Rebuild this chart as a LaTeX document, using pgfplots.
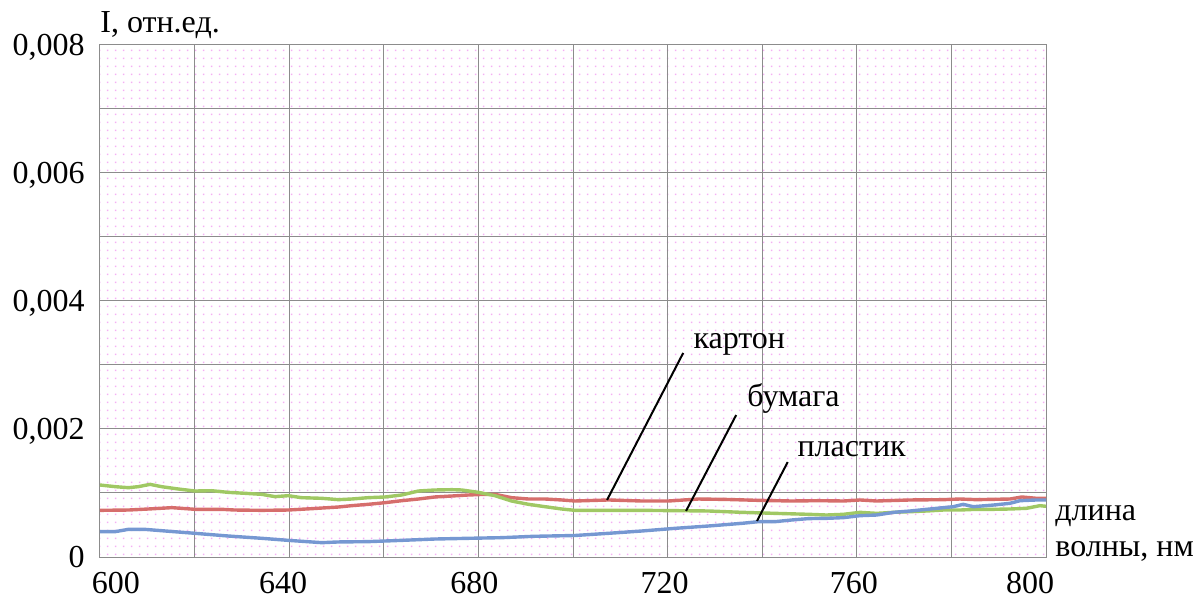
\documentclass[border=0pt]{standalone}
\usepackage{fontspec}
\setmainfont{Liberation Serif}
\usepackage{pgfplots}
\pgfplotsset{compat=1.18}
\usepackage{pgfplotstable}
\usetikzlibrary{patterns}

\definecolor{kartonred}{RGB}{214,110,108}
\definecolor{bumagagreen}{RGB}{160,200,100}
\definecolor{plastblue}{RGB}{118,152,210}
\definecolor{dotpink}{RGB}{244,176,244}
\definecolor{gridgray}{RGB}{140,140,140}

% faint pink dotted paper behind the plot area
\pgfdeclarepatterninherentlycolored{pinkdots}{\pgfpoint{0bp}{0bp}}{\pgfpoint{4bp}{4bp}}{\pgfpoint{4bp}{4bp}}{%
  \pgfsetfillcolor{dotpink}%
  \pgfpathrectangle{\pgfpoint{1.6bp}{1.6bp}}{\pgfpoint{0.8bp}{0.8bp}}\pgfusepath{fill}}

\newcommand{\chartfont}{\fontsize{16bp}{19bp}\selectfont}

% wavelength (nm)  intensity (rel. units)
\pgfplotstableread{
x y
600 0.000729
606.0 0.000734
610.2 0.000750
615.2 0.000771
620.1 0.000745
625.7 0.000745
628.5 0.000734
634.2 0.000729
639.8 0.000734
644.7 0.000755
650.4 0.000781
653.2 0.000802
656.7 0.000823
660.3 0.000849
663.8 0.000880
667.3 0.000906
670.8 0.000938
674.4 0.000953
677.9 0.000969
681.4 0.000979
683.5 0.000979
687.0 0.000927
690.6 0.000906
694.1 0.000906
697.6 0.000891
700.4 0.000875
707.5 0.000891
714.5 0.000875
720.2 0.000875
726.5 0.000906
732.1 0.000900
739.2 0.000885
746.2 0.000875
751.9 0.000880
757.2 0.000875
760.7 0.000891
764.2 0.000875
771.3 0.000891
778.3 0.000896
781.8 0.000906
785.3 0.000896
792.4 0.000906
794.9 0.000938
798.0 0.000917
800 0.000917
}\karton

\pgfplotstableread{
x y
600 0.001125
603.2 0.001099
606.0 0.001083
608.1 0.001099
610.6 0.001135
613.0 0.001099
616.6 0.001062
620.1 0.001031
623.6 0.001036
627.1 0.001010
630.7 0.000995
634.2 0.000979
637.0 0.000943
639.8 0.000958
642.6 0.000927
646.9 0.000917
650.4 0.000896
653.2 0.000906
656.7 0.000927
660.3 0.000938
663.8 0.000969
667.3 0.001031
670.8 0.001047
674.4 0.001052
676.5 0.001047
680.0 0.001010
683.5 0.000958
687.0 0.000875
690.6 0.000823
694.1 0.000786
697.6 0.000750
700.4 0.000729
707.5 0.000729
714.5 0.000729
721.6 0.000724
728.6 0.000719
735.7 0.000698
742.7 0.000682
749.8 0.000667
753.6 0.000656
757.2 0.000667
760.7 0.000698
764.2 0.000682
767.8 0.000698
771.3 0.000708
774.8 0.000719
778.3 0.000734
781.8 0.000734
785.3 0.000745
788.9 0.000745
792.4 0.000750
795.9 0.000761
798.7 0.000802
800 0.000792
}\bumaga

\pgfplotstableread{
x y
600 0.000396
603.2 0.000396
606.0 0.000432
609.5 0.000432
613.0 0.000411
620.1 0.000370
627.1 0.000328
634.2 0.000292
639.8 0.000260
646.9 0.000224
650.4 0.000235
656.7 0.000240
663.8 0.000260
670.8 0.000281
677.9 0.000292
684.9 0.000302
691.6 0.000323
700.4 0.000336
707.5 0.000370
714.5 0.000406
721.6 0.000448
728.6 0.000484
735.7 0.000526
739.2 0.000552
742.7 0.000552
746.2 0.000578
749.8 0.000600
753.6 0.000604
757.2 0.000615
760.7 0.000646
764.2 0.000656
767.8 0.000698
771.3 0.000719
774.8 0.000745
778.3 0.000771
780.4 0.000786
782.5 0.000823
784.6 0.000786
788.9 0.000812
792.4 0.000839
794.5 0.000880
798.0 0.000891
800 0.000891
}\plastik

\begin{document}
\begin{tikzpicture}
\begin{axis}[
  at={(0,0)}, anchor=south west,
  scale only axis, width=473bp, height=256bp,
  xmin=600, xmax=800, ymin=0, ymax=0.008,
  xtick={600,640,680,720,760,800},
  minor xtick={620,660,700,740,780},
  ytick={0,0.002,0.004,0.006,0.008},
  minor ytick={0.001,0.003,0.005,0.007},
  xticklabels={\hspace*{16bp}600,640\hspace*{6bp},680\hspace*{4bp},720\hspace*{3bp},760\hspace*{3bp},800\hspace*{16bp}},
  yticklabels={0,{0,002},{0,004},{0,006},{0,008}},
  scaled y ticks=false,
  major tick length=0pt, minor tick length=0pt,
  grid=both,
  major grid style={gridgray, line width=0.5bp},
  minor grid style={gridgray, line width=0.5bp},
  axis line style={gridgray, line width=0.5bp},
  axis background/.style={pattern=pinkdots},
  tick label style={font=\chartfont},
  xticklabel style={anchor=north, inner sep=0pt, yshift=-7.5bp},
  yticklabel style={anchor=base east, inner sep=0pt, xshift=-7.5bp, yshift=-5.4bp},
  clip=false,
  every axis plot/.append style={line width=1.7bp, no marks, line join=round},
]
\addplot[kartonred] table[x=x, y=y] {\karton};
\addplot[bumagagreen] table[x=x, y=y] {\bumaga};
\addplot[plastblue] table[x=x, y=y] {\plastik};

% leader lines and series names
\draw[black, line width=1bp] (axis cs:723.3,0.003188) -- (axis cs:707.2,0.000891);
\draw[black, line width=1bp] (axis cs:734.5,0.002219) -- (axis cs:723.9,0.000719);
\draw[black, line width=1bp] (axis cs:745.4,0.001484) -- (axis cs:738.9,0.000563);
\node[anchor=base west, inner sep=0pt, font=\chartfont] at (axis cs:725.4,0.00325) {картон};
\node[anchor=base west, inner sep=0pt, font=\chartfont] at (axis cs:736.8,0.002344) {бумага};
\node[anchor=base west, inner sep=0pt, font=\chartfont] at (axis cs:747.4,0.001563) {пластик};

% axis titles
\node[anchor=base west, inner sep=0pt, font=\chartfont, yshift=6bp] at (rel axis cs:0,1) {I, отн.ед.};
\node[anchor=base west, inner sep=0pt, font=\chartfont, xshift=4.5bp, yshift=18.5bp] at (rel axis cs:1,0) {длина};
\node[anchor=base west, inner sep=0pt, font=\chartfont, xshift=4.5bp, yshift=0.5bp] at (rel axis cs:1,0) {волны, нм};
\end{axis}
\pgfresetboundingbox
\path[use as bounding box] (-50bp,-20.5bp) rectangle (552bp,278.5bp);
\end{tikzpicture}
\end{document}
